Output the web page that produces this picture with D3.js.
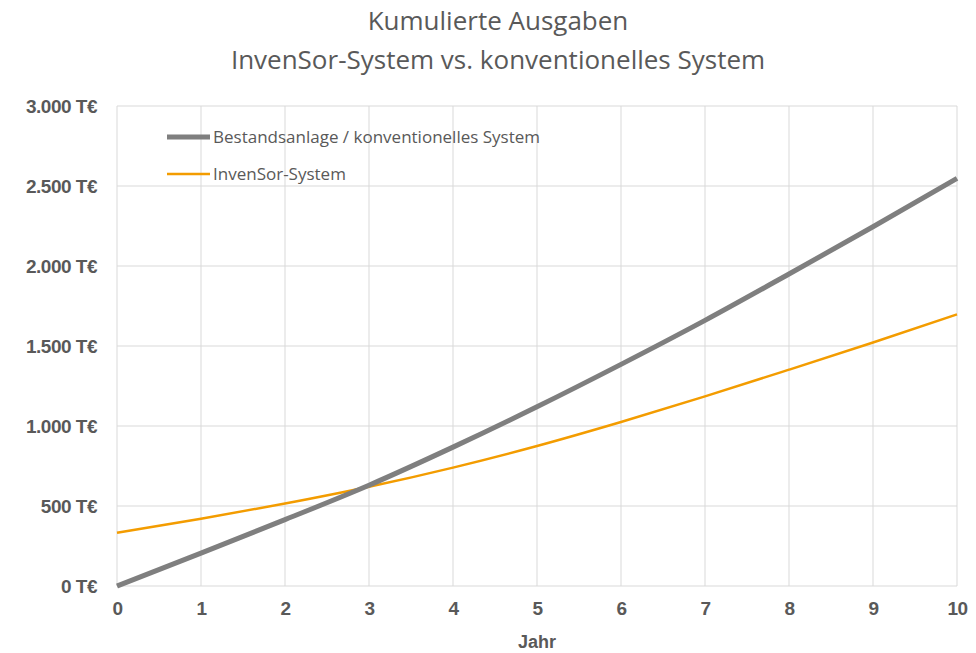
<!DOCTYPE html>
<html>
<head>
<meta charset="utf-8">
<script src="https://cdn.jsdelivr.net/npm/d3@7"></script>
<style>
  body { margin: 0; background: #fff; }
</style>
</head>
<body>
<div id="chart"></div>
<script>
// data (T€ per year)
var years = [0, 1, 2, 3, 4, 5, 6, 7, 8, 9, 10];
var conventional = [0, 205, 415, 630, 868, 1120, 1385, 1660, 1950, 2245, 2548];
var invensor = [333, 420, 515, 620, 740, 875, 1025, 1185, 1352, 1522, 1698];
var yTicks = [0, 500, 1000, 1500, 2000, 2500, 3000];
var seriesNames = ["Bestandsanlage / konventionelles System", "InvenSor-System"];
var titleLines = ["Kumulierte Ausgaben", "InvenSor-System vs. konventionelles System"];

var margin = {top: 106, right: 19, bottom: 67, left: 117},
    width = 976 - margin.left - margin.right,
    height = 653 - margin.top - margin.bottom;

var svg = d3.select("#chart").append("svg")
    .attr("width", 976)
    .attr("height", 653);

var g = svg.append("g")
    .attr("transform", "translate(" + margin.left + "," + margin.top + ")");

var x = d3.scaleLinear().domain([0, 10]).range([0, width]);
var y = d3.scaleLinear().domain([0, 3000]).range([height, 0]);

// title
svg.selectAll(".title").data(titleLines).enter().append("text")
    .attr("x", 498)
    .attr("y", function(d, i) { return 30 + i * 39; })
    .attr("text-anchor", "middle")
    .attr("font-family", "'Open Sans', sans-serif")
    .attr("font-size", "26px")
    .attr("fill", "#595959")
    .text(function(d) { return d; });

// grid
g.append("g").selectAll("line").data(yTicks).enter().append("line")
    .attr("x1", 0).attr("x2", width)
    .attr("y1", function(d) { return y(d); })
    .attr("y2", function(d) { return y(d); })
    .attr("stroke", "#d9d9d9");
g.append("g").selectAll("line").data(years).enter().append("line")
    .attr("x1", function(d) { return x(d); })
    .attr("x2", function(d) { return x(d); })
    .attr("y1", 0).attr("y2", height)
    .attr("stroke", "#d9d9d9");

// axes
var fmt = d3.formatLocale({decimal: ",", thousands: ".", grouping: [3], currency: ["", ""]}).format(",");
var yAxis = g.append("g")
    .call(d3.axisLeft(y).tickValues(yTicks).tickSize(0).tickPadding(20)
        .tickFormat(function(d) { return fmt(d) + " T€"; }));
var xAxis = g.append("g")
    .attr("transform", "translate(0," + height + ")")
    .call(d3.axisBottom(x).tickValues(years).tickSize(0).tickPadding(16));
[yAxis, xAxis].forEach(function(a) {
    a.select(".domain").remove();
    a.selectAll("text")
        .attr("font-family", "'Liberation Sans', Arial, sans-serif")
        .attr("font-weight", "bold")
        .attr("font-size", "19px")
        .attr("letter-spacing", "-0.5px")
        .attr("fill", "#595959");
});

g.append("text")
    .attr("x", width / 2)
    .attr("y", height + 62)
    .attr("text-anchor", "middle")
    .attr("font-family", "'Liberation Sans', Arial, sans-serif")
    .attr("font-weight", "bold")
    .attr("font-size", "18px")
    .attr("fill", "#595959")
    .text("Jahr");

// lines
var line = function(vals) {
    return d3.line()
        .x(function(d, i) { return x(years[i]); })
        .y(function(d) { return y(d); })
        .curve(d3.curveMonotoneX)(vals);
};
g.append("path")
    .attr("d", line(invensor))
    .attr("fill", "none")
    .attr("stroke", "#f39c00")
    .attr("stroke-width", 2.5);
g.append("path")
    .attr("d", line(conventional))
    .attr("fill", "none")
    .attr("stroke", "#7f7f7f")
    .attr("stroke-width", 5);

// legend
var legend = svg.append("g").attr("transform", "translate(167,137)");
var legendStyles = [{c: "#7f7f7f", w: 5}, {c: "#f39c00", w: 2.5}];
seriesNames.forEach(function(name, i) {
    var row = legend.append("g").attr("transform", "translate(0," + (i * 37) + ")");
    row.append("line")
        .attr("x1", 0).attr("x2", 43)
        .attr("stroke", legendStyles[i].c)
        .attr("stroke-width", legendStyles[i].w);
    row.append("text")
        .attr("x", 46)
        .attr("dy", "0.35em")
        .attr("font-family", "'Open Sans', sans-serif")
        .attr("font-size", "17px")
        .attr("fill", "#595959")
        .text(name);
});
</script>
</body>
</html>
